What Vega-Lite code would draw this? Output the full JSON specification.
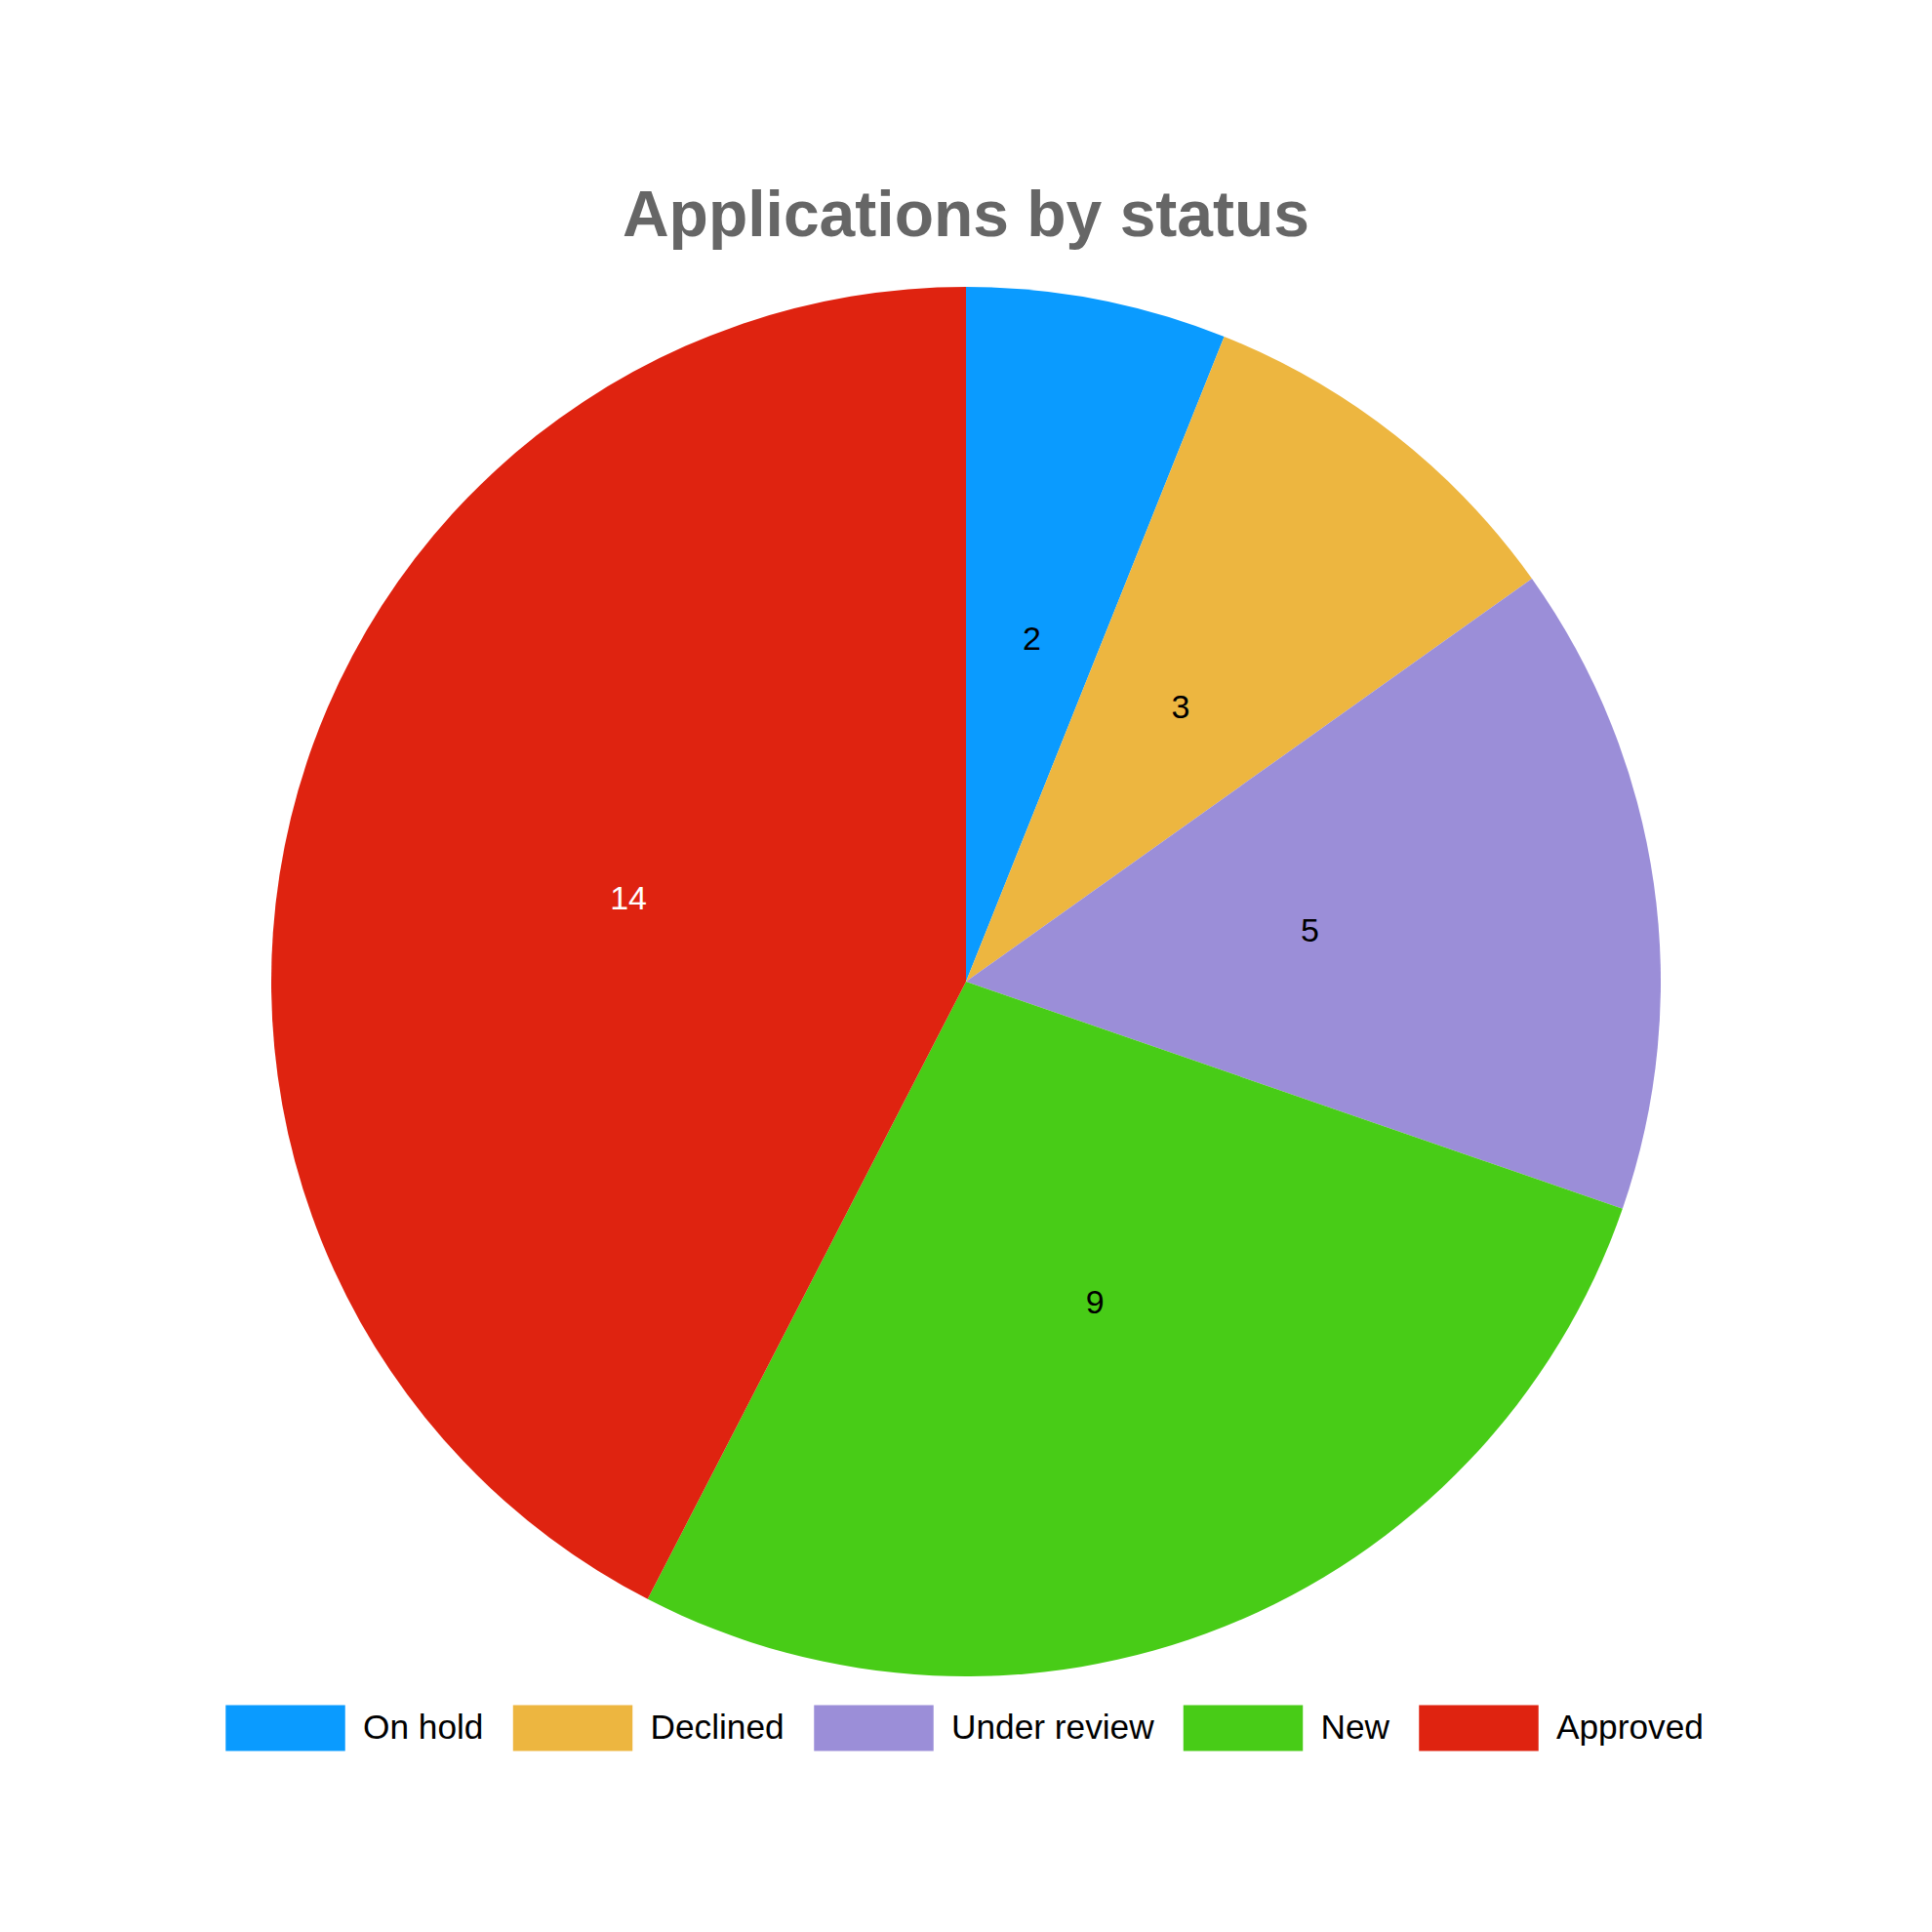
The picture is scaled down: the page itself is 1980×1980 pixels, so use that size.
{
  "$schema": "https://vega.github.io/schema/vega-lite/v6.json",
  "description": "Pie chart of applications by status",
  "autosize": {"type": "none"},
  "width": 1980,
  "height": 1460,
  "padding": {"left": 0, "right": 0, "top": 276, "bottom": 244},
  "background": "white",
  "title": {
    "text": "Applications by status",
    "anchor": "middle",
    "font": "Liberation Sans",
    "fontSize": 66,
    "fontWeight": "bold",
    "color": "#666666",
    "offset": 20
  },
  "data": {
    "values": [
      {"status": "On hold", "count": 2, "rank": 1},
      {"status": "Declined", "count": 3, "rank": 2},
      {"status": "Under review", "count": 5, "rank": 3},
      {"status": "New", "count": 9, "rank": 4},
      {"status": "Approved", "count": 14, "rank": 5}
    ]
  },
  "encoding": {
    "theta": {"field": "count", "type": "quantitative", "stack": true},
    "order": {"field": "rank", "type": "quantitative"}
  },
  "layer": [
    {
      "mark": {"type": "arc", "outerRadius": 712, "stroke": null},
      "encoding": {
        "color": {
          "field": "status",
          "type": "nominal",
          "sort": ["On hold", "Declined", "Under review", "New", "Approved"],
          "scale": {
            "domain": ["On hold", "Declined", "Under review", "New", "Approved"],
            "range": ["#0a9bff", "#edb640", "#9b8ed8", "#48cc17", "#df2310"]
          },
          "legend": {
            "title": null,
            "orient": "none",
            "direction": "horizontal",
            "legendX": 231,
            "legendY": 1433,
            "padding": 0,
            "symbolType": "M-1,-0.385H1V0.385H-1Z",
            "symbolSize": 15000,
            "symbolStrokeWidth": 0,
            "symbolOpacity": 1,
            "labelFont": "Liberation Sans",
            "labelFontSize": 35.25,
            "labelColor": "#000000",
            "labelOffset": 18,
            "columnPadding": 29.5,
            "labelLimit": 400
          }
        }
      }
    },
    {
      "mark": {"type": "text", "radius": 356, "font": "Liberation Sans", "fontSize": 34},
      "encoding": {
        "text": {"field": "count", "type": "quantitative"},
        "color": {
          "condition": {"test": "datum.status === 'Approved'", "value": "#ffffff"},
          "value": "#000000"
        }
      }
    }
  ],
  "config": {
    "view": {"stroke": null}
  }
}
